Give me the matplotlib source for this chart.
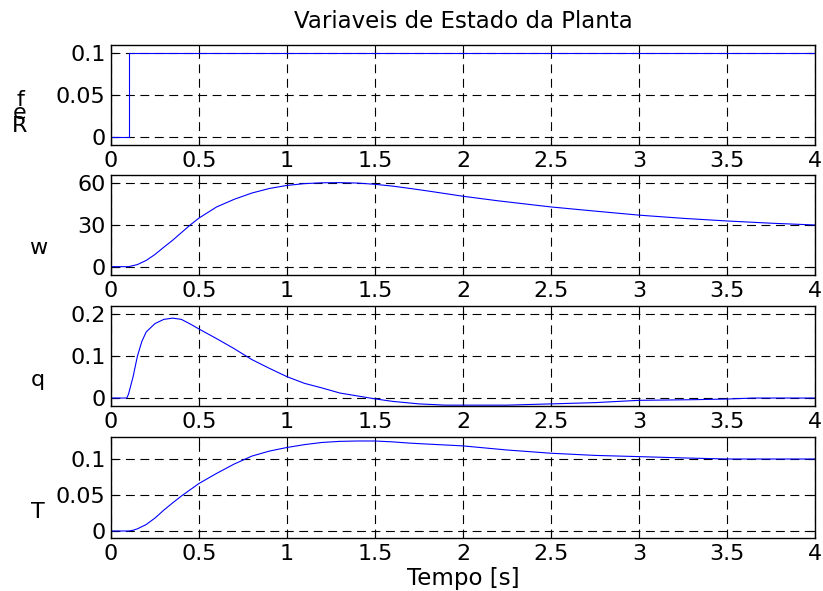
import matplotlib
matplotlib.use("Agg")
import matplotlib.pyplot as plt

W, H = 823, 591
plt.rcParams['font.family'] = ['DejaVu Sans']
FS = 16
FS_TITLE = 16.5

# Reference input (step)
t_ref = [0.0, 0.1, 0.1, 4.0]
ref_vals = [0.0, 0.0, 0.1, 0.1]

# Angular speed w
t_w = [0.0, 0.1, 0.15, 0.2, 0.25, 0.3, 0.35, 0.4, 0.45, 0.5, 0.6, 0.7, 0.8,
       0.9, 1.0, 1.1, 1.2, 1.3, 1.4, 1.5, 1.6, 1.7, 1.8, 1.9, 2.0, 2.2, 2.5,
       2.75, 3.0, 3.25, 3.5, 3.75, 4.0]
w_vals = [0.0, 0.0, 1.5, 4.5, 8.8, 14.0, 19.0, 24.5, 30.0, 35.0, 43.0, 48.5,
          53.0, 56.3, 58.5, 59.8, 60.4, 60.5, 60.2, 59.3, 58.0, 56.3, 54.5,
          52.6, 50.7, 47.4, 43.0, 40.0, 37.1, 34.8, 32.9, 31.3, 30.0]

# State q
t_q = [0.0, 0.09, 0.1, 0.125, 0.15, 0.175, 0.2, 0.25, 0.3, 0.35, 0.4, 0.45,
       0.5, 0.6, 0.7, 0.8, 0.9, 1.0, 1.1, 1.2, 1.3, 1.4, 1.5, 1.6, 1.75, 1.9,
       2.25, 2.5, 2.75, 3.0, 3.3, 3.5, 3.65, 4.0]
q_vals = [0.0, 0.0, 0.01, 0.05, 0.10, 0.135, 0.158, 0.178, 0.188, 0.191,
          0.188, 0.177, 0.165, 0.142, 0.118, 0.092, 0.071, 0.051, 0.035,
          0.024, 0.012, 0.005, -0.002, -0.008, -0.014, -0.017, -0.017,
          -0.014, -0.011, -0.0055, -0.004, -0.0024, 0.0, 0.0]

# State T
t_T = [0.0, 0.1, 0.125, 0.15, 0.2, 0.25, 0.3, 0.35, 0.4, 0.5, 0.6, 0.7, 0.8,
       0.9, 1.0, 1.1, 1.2, 1.3, 1.4, 1.5, 1.6, 1.7, 1.8, 2.0, 2.25, 2.5,
       2.75, 3.0, 3.25, 3.5, 4.0]
T_vals = [0.0, 0.0, 0.001, 0.003, 0.009, 0.018, 0.029, 0.039, 0.0486, 0.066,
          0.080, 0.093, 0.104, 0.111, 0.116, 0.120, 0.123, 0.1245, 0.125,
          0.125, 0.1238, 0.122, 0.1207, 0.1182, 0.1125, 0.108, 0.105, 0.1033,
          0.1015, 0.100, 0.100]

x_ticks = [0, 0.5, 1, 1.5, 2, 2.5, 3, 3.5, 4]
x_tick_labels = ['0', '0.5', '1', '1.5', '2', '2.5', '3', '3.5', '4']

panels = [
    # (top px, bottom px, t, y, ylim, yticks, yticklabels)
    (44.6, 145.4, t_ref, ref_vals, (-0.01, 0.11), [0, 0.05, 0.1], ['0', '0.05', '0.1']),
    (175.0, 275.0, t_w, w_vals, (-6, 66), [0, 30, 60], ['0', '30', '60']),
    (306.0, 406.4, t_q, q_vals, (-0.02, 0.22), [0, 0.1, 0.2], ['0', '0.1', '0.2']),
    (437.4, 538.2, t_T, T_vals, (-0.01, 0.13), [0, 0.05, 0.1], ['0', '0.05', '0.1']),
]

fig = plt.figure(figsize=(W / 100, H / 100), dpi=100)
left, right = 111, 815
axes = []
for top, bottom, tx, ty, ylim, yt, ytl in panels:
    ax = fig.add_axes([left / W, 1 - bottom / H, (right - left) / W, (bottom - top) / H])
    ax.plot(tx, ty, color='#0000FF', linewidth=0.8)
    ax.set_xlim(0, 4)
    ax.set_ylim(*ylim)
    ax.set_xticks(x_ticks)
    ax.set_xticklabels(x_tick_labels)
    ax.set_yticks(yt)
    ax.set_yticklabels(ytl)
    ax.tick_params(direction='in', length=5, width=0.8, top=True, right=True,
                   labelsize=FS, colors='black')
    ax.tick_params(axis='x', pad=4)
    ax.tick_params(axis='y', pad=4)
    ax.grid(True, color='black', linestyle=(0, (8, 5)), linewidth=0.8)
    for s in ax.spines.values():
        s.set_linewidth(1.0)
        s.set_color('black')
    axes.append(ax)

def fy(y):
    return 1 - y / H

fig.text(463 / W, fy(21), 'Variaveis de Estado da Planta', ha='center', va='center', fontsize=FS_TITLE)
fig.text(463 / W, fy(579), 'Tempo [s]', ha='center', va='center', fontsize=FS_TITLE)

# Stacked label for the first panel
fig.text(20 / W, fy(113), 'f\ne\nR', ha='center', va='center', multialignment='center',
         linespacing=0.55, fontsize=FS)

fig.text(38 / W, fy(248), 'w', ha='center', va='center', fontsize=FS)
fig.text(38 / W, fy(380), 'q', ha='center', va='center', fontsize=FS)
fig.text(38 / W, fy(512), 'T', ha='center', va='center', fontsize=FS)

fig.savefig('out.png', dpi=100)
